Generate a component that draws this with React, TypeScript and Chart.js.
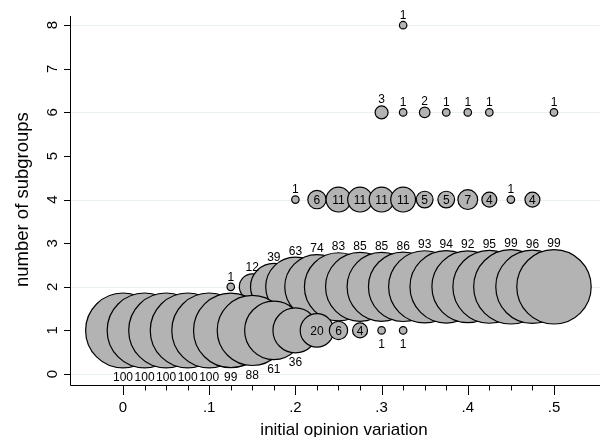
import React, { useEffect, useRef } from "react";
import { Chart, registerables } from "chart.js";

Chart.register(...registerables);

// ---- data ----
const row1X = [0, 0.025, 0.05, 0.075, 0.1, 0.125, 0.15, 0.175, 0.2, 0.225, 0.25, 0.275, 0.3, 0.325];
const row1Counts = [100, 100, 100, 100, 100, 99, 88, 61, 36, 20, 6, 4, 1, 1];

const row2X = [0.125, 0.15, 0.175, 0.2, 0.225, 0.25, 0.275, 0.3, 0.325, 0.35, 0.375, 0.4, 0.425, 0.45, 0.475, 0.5];
const row2Counts = [1, 12, 39, 63, 74, 83, 85, 85, 86, 93, 94, 92, 95, 99, 96, 99];

const row4X = [0.2, 0.225, 0.25, 0.275, 0.3, 0.325, 0.35, 0.375, 0.4, 0.425, 0.45, 0.475];
const row4Counts = [1, 6, 11, 11, 11, 11, 5, 5, 7, 4, 1, 4];

const row6X = [0.3, 0.325, 0.35, 0.375, 0.4, 0.425, 0.5];
const row6Counts = [3, 1, 2, 1, 1, 1, 1];

const row8X = [0.325];
const row8Counts = [1];

const xMajorTicks = [0, 0.1, 0.2, 0.3, 0.4, 0.5];
const xMajorLabels = ["0", ".1", ".2", ".3", ".4", ".5"];
const xMinorTicks = [0.025, 0.05, 0.075, 0.125, 0.15, 0.175, 0.225, 0.25, 0.275, 0.325, 0.35, 0.375, 0.425, 0.45, 0.475];
const yTicks = [0, 1, 2, 3, 4, 5, 6, 7, 8];
const yTickLabels = ["0", "1", "2", "3", "4", "5", "6", "7", "8"];
const yGridLines = [0, 2, 4, 6, 8];

const xTitle = "initial opinion variation";
const yTitle = "number of subgroups";

const FONT = "'Liberation Sans', Arial, Helvetica, sans-serif";
const FILL = "#b3b3b3";
const MAX_R = 37.4;

const radiusOf = (n: number) => MAX_R * Math.sqrt(n / 100);

type Row = { y: number; xs: number[]; counts: number[] };
const rows: Row[] = [
  { y: 1, xs: row1X, counts: row1Counts },
  { y: 2, xs: row2X, counts: row2Counts },
  { y: 4, xs: row4X, counts: row4Counts },
  { y: 6, xs: row6X, counts: row6Counts },
  { y: 8, xs: row8X, counts: row8Counts },
];

function placement(y: number, n: number): "above" | "below" | "inside" {
  if (y === 2) return "above";
  if (n >= 4 && n <= 20) return "inside";
  if (y === 1) return "below";
  return "above";
}

const gridPlugin = {
  id: "stataGrid",
  beforeDatasetsDraw(chart: any) {
    const { ctx, chartArea, scales } = chart;
    ctx.save();
    ctx.strokeStyle = "#e8f0f0";
    ctx.lineWidth = 1.2;
    yGridLines.forEach((v) => {
      const py = Math.round(scales.y.getPixelForValue(v)) + 0.5;
      ctx.beginPath();
      ctx.moveTo(chartArea.left, py);
      ctx.lineTo(chartArea.right, py);
      ctx.stroke();
    });
    ctx.restore();
  },
};

const labelPlugin = {
  id: "bubbleLabels",
  afterDatasetsDraw(chart: any) {
    const { ctx } = chart;
    ctx.save();
    ctx.fillStyle = "#000";
    ctx.font = `12px ${FONT}`;
    ctx.textAlign = "center";
    ctx.textBaseline = "alphabetic";
    rows.forEach((row, di) => {
      const meta = chart.getDatasetMeta(di);
      meta.data.forEach((el: any, i: number) => {
        const n = row.counts[i];
        const r = radiusOf(n);
        const pos = placement(row.y, n);
        const text = String(n);
        if (pos === "inside") {
          ctx.fillText(text, el.x, el.y + 4.3);
        } else if (pos === "above") {
          ctx.fillText(text, el.x, el.y - r - 2.5);
        } else {
          ctx.fillText(text, el.x, el.y + r + 13.5);
        }
      });
    });
    ctx.restore();
  },
};

const axesPlugin = {
  id: "stataAxes",
  afterDraw(chart: any) {
    const { ctx, chartArea, scales } = chart;
    const { left, right, top, bottom } = chartArea;
    ctx.save();
    ctx.strokeStyle = "#000";
    ctx.lineWidth = 1;
    // axis lines
    ctx.beginPath();
    ctx.moveTo(left + 0.5, top);
    ctx.lineTo(left + 0.5, bottom + 0.5);
    ctx.lineTo(right, bottom + 0.5);
    ctx.stroke();
    // y ticks
    yTicks.forEach((v) => {
      const py = Math.round(scales.y.getPixelForValue(v)) + 0.5;
      ctx.beginPath();
      ctx.moveTo(left - 6, py);
      ctx.lineTo(left, py);
      ctx.stroke();
    });
    // x ticks
    xMajorTicks.forEach((v) => {
      const px = Math.round(scales.x.getPixelForValue(v)) + 0.5;
      ctx.beginPath();
      ctx.moveTo(px, bottom);
      ctx.lineTo(px, bottom + 10);
      ctx.stroke();
    });
    xMinorTicks.forEach((v) => {
      const px = Math.round(scales.x.getPixelForValue(v)) + 0.5;
      ctx.beginPath();
      ctx.moveTo(px, bottom);
      ctx.lineTo(px, bottom + 5.5);
      ctx.stroke();
    });
    // tick labels
    ctx.fillStyle = "#000";
    ctx.font = `15px ${FONT}`;
    ctx.textAlign = "center";
    ctx.textBaseline = "alphabetic";
    xMajorTicks.forEach((v, i) => {
      const px = scales.x.getPixelForValue(v);
      ctx.fillText(xMajorLabels[i], px, 411.5);
    });
    yTicks.forEach((v, i) => {
      const py = scales.y.getPixelForValue(v);
      ctx.save();
      ctx.translate(56.5, py);
      ctx.rotate(-Math.PI / 2);
      ctx.fillText(yTickLabels[i], 0, 0);
      ctx.restore();
    });
    // titles
    ctx.font = `17px ${FONT}`;
    ctx.fillText(xTitle, 344, 435);
    ctx.font = `18.5px ${FONT}`;
    ctx.save();
    ctx.translate(28, (scales.y.getPixelForValue(2) + scales.y.getPixelForValue(6)) / 2);
    ctx.rotate(-Math.PI / 2);
    ctx.fillText(yTitle, 0, 0);
    ctx.restore();
    ctx.restore();
  },
};

export default function App() {
  const canvasRef = useRef<HTMLCanvasElement | null>(null);

  useEffect(() => {
    const canvas = canvasRef.current;
    if (!canvas) return;
    const datasets = rows.map((row) => ({
      label: `y${row.y}`,
      data: row.xs.map((x, i) => ({ x, y: row.y, r: radiusOf(row.counts[i]) })),
      backgroundColor: FILL,
      borderColor: "#000",
      borderWidth: 1.2,
      hoverRadius: 0,
      hoverBorderWidth: 1.2,
      clip: false as any,
    }));
    const chart = new Chart(canvas, {
      type: "bubble",
      data: { datasets },
      options: {
        responsive: false,
        animation: false,
        devicePixelRatio: 1,
        layout: { autoPadding: false, padding: { left: 70, right: 0, top: 16, bottom: 52 } },
        plugins: { legend: { display: false }, tooltip: { enabled: false } },
        events: [],
        scales: {
          x: { type: "linear", display: false, min: -0.0615, max: 0.5534 },
          y: { type: "linear", display: false, min: -0.252, max: 8.211 },
        },
      },
      plugins: [gridPlugin, labelPlugin, axesPlugin],
    });
    return () => chart.destroy();
  }, []);

  return (
    <div style={{ position: "fixed", left: 0, top: 0, width: 600, height: 437, background: "#fff" }}>
      <canvas ref={canvasRef} width={600} height={437} style={{ display: "block" }} />
    </div>
  );
}
